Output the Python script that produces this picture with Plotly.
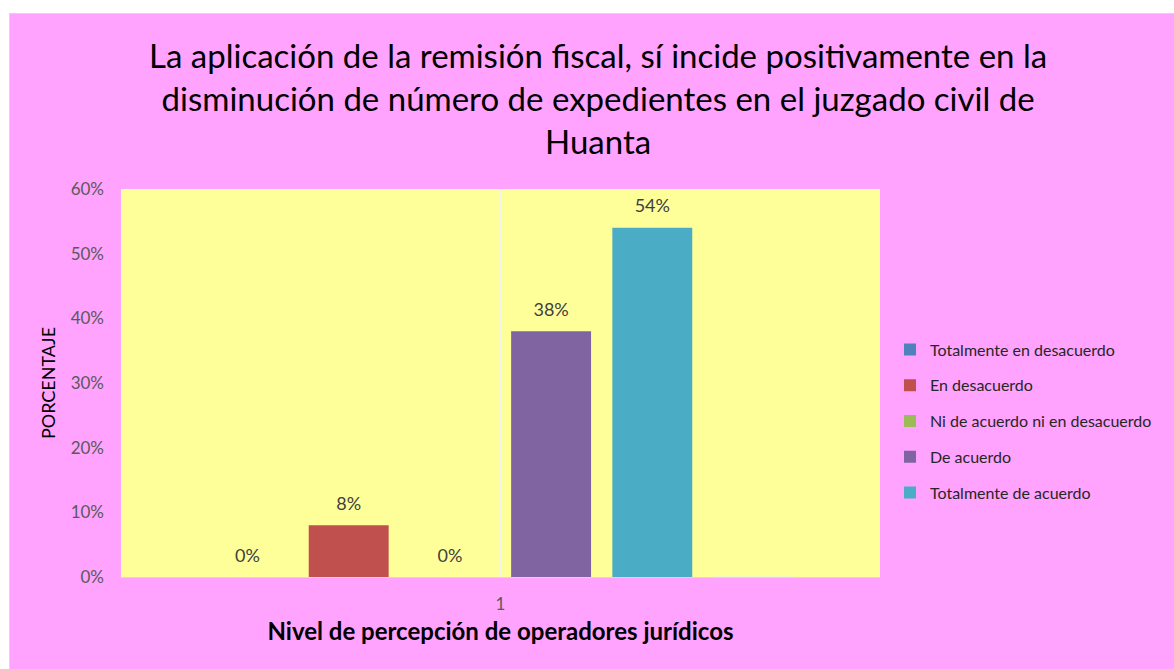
import plotly.graph_objects as go

categories = ["1"]
series_names = [
    "Totalmente en desacuerdo",
    "En desacuerdo",
    "Ni de acuerdo ni en desacuerdo",
    "De acuerdo",
    "Totalmente de acuerdo",
]
series_values = [0.0, 0.08, 0.0, 0.38, 0.54]
series_colors = ["#4F81BD", "#C0504D", "#9BBB59", "#8064A2", "#4BACC6"]
y_tick_values = [0, 0.1, 0.2, 0.3, 0.4, 0.5, 0.6]

title_text = ("La aplicación de la remisión fiscal, sí incide positivamente en la<br>"
              "disminución de número de expedientes en el juzgado civil de<br>Huanta")

PINK = "#FFA3FF"
YELLOW = "#FFFF99"
FONT = "Lato"

fig = go.Figure()
for i, (name, val, col) in enumerate(zip(series_names, series_values, series_colors)):
    fig.add_trace(go.Bar(
        x=categories, y=[val], name=name,
        marker=dict(color=col, line=dict(width=0)),
        texttemplate="<span style='font-size:18px'>%{y:.0%}</span><br> ",
        textposition="outside", cliponaxis=False, constraintext="none",
        textfont=dict(family=FONT, size=8, color="#404040"),
        legendgroup=f"g{i}",
    ))
# empty placeholder series (reserves the sixth slot as in the original chart)
fig.add_trace(go.Bar(x=categories, y=[0], name="", showlegend=False,
                     marker=dict(color="rgba(0,0,0,0)"), hoverinfo="skip"))

W, H = 1174, 669
L, R, T, B = 121, 294, 189, 92
PW, PH = W - L - R, H - T - B


def px_x(x):
    return (x - L) / PW


def px_y(y):
    return (H - B - y) / PH


fig.update_layout(
    width=W, height=H,
    margin=dict(l=L, r=R, t=T, b=B),
    paper_bgcolor=PINK, plot_bgcolor=YELLOW,
    barmode="group", bargap=0.2, bargroupgap=0.21,
    font=dict(family=FONT, color="#404040"),
    showlegend=True,
    legend=dict(x=px_x(890), xanchor="left", y=px_y(421), yanchor="middle",
                bgcolor="rgba(0,0,0,0)", traceorder="grouped", tracegroupgap=12,
                font=dict(family=FONT, size=16, color="#262626")),
    xaxis=dict(type="category", showgrid=True, gridcolor="#F2F2F2", gridwidth=2,
               showline=True, linecolor="#D8D8D8", linewidth=1, zeroline=False,
               tickfont=dict(family=FONT, size=17, color="#595959"), ticks="",
               ticklabelstandoff=12,
               title=dict(text="<b>Nivel de percepción de operadores jurídicos</b>",
                          font=dict(family=FONT, size=24, color="#000000"), standoff=9)),
    yaxis=dict(range=[0, 0.6], tickvals=y_tick_values, tickformat=".0%",
               showgrid=False, zeroline=False, showline=False, ticks="",
               ticklabelstandoff=16,
               tickfont=dict(family=FONT, size=17, color="#595959"),
               title=dict(text="PORCENTAJE", font=dict(family=FONT, size=18, color="#000000"),
                          standoff=10)),
    annotations=[dict(text=title_text, xref="paper", yref="paper",
                      x=px_x(598), y=px_y(98),
                      xanchor="center", yanchor="middle", showarrow=False,
                      font=dict(family=FONT, size=33, color="#000000"))],
    shapes=[
        dict(type="rect", xref="paper", yref="paper", x0=px_x(-5), x1=px_x(W + 5),
             y0=px_y(13), y1=px_y(-5), fillcolor="white", line=dict(width=0), layer="above"),
        dict(type="rect", xref="paper", yref="paper", x0=px_x(-5), x1=px_x(9),
             y0=px_y(H + 5), y1=px_y(-5), fillcolor="white", line=dict(width=0), layer="above"),
        dict(type="line", xref="paper", yref="paper", x0=px_x(9), x1=px_x(W + 5),
             y0=px_y(13.5), y1=px_y(13.5), line=dict(color="#D9D9D9", width=1), layer="above"),
        dict(type="line", xref="paper", yref="paper", x0=px_x(9.5), x1=px_x(9.5),
             y0=px_y(13), y1=px_y(H + 5), line=dict(color="#D9D9D9", width=1), layer="above"),
    ],
)

fig.write_html("out.html", config={"displayModeBar": False},
               post_script="document.body.style.margin='0';document.body.style.overflow='hidden';")
